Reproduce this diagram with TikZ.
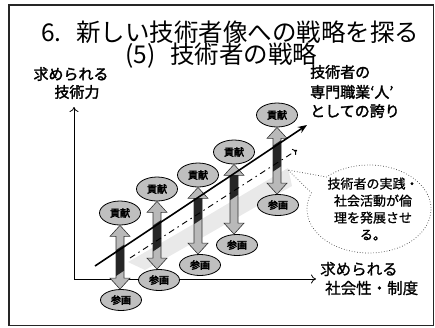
\documentclass[tikz,border=0pt]{standalone}
\usepackage{fontspec}
\setmainfont{Noto Sans CJK JP}
\newfontfamily\jpb{Noto Sans CJK JP}[FakeBold=2]
\newfontfamily\jpbb{Noto Sans CJK JP}[FakeBold=3.5]
\newfontfamily\jpm{Noto Sans CJK JP}[FakeBold=1]
\usetikzlibrary{shapes.geometric,shapes.callouts,arrows.meta,calc}
\newcommand\dblarr[2]{%
  \path[dbl] let \p1=(#1.south), \p2=(#2.north) in
    (\x1,\y1) -- (\x1+10pt,\y1-11pt) -- (\x1+4pt,\y1-11pt) -- (\x1+4pt,\y2+11pt)
    -- (\x1+10pt,\y2+11pt) -- (\x1,\y2) -- (\x1-10pt,\y2+11pt) -- (\x1-4pt,\y2+11pt)
    -- (\x1-4pt,\y1-11pt) -- (\x1-10pt,\y1-11pt) -- cycle;
  \begin{scope}
    \clip let \p1=(#1.south), \p2=(#2.north) in (\x1-4pt,\y1-11pt) rectangle (\x1+4pt,\y2+11pt);
    \fill[black!85] ([yshift=2pt]m0) -- ([yshift=2pt]m1) -- ([yshift=-24pt]m1) -- ([yshift=-24pt]m0) -- cycle;
  \end{scope}}
\begin{document}
\begin{tikzpicture}[x=1pt,y=-1pt,
  lab/.style={inner sep=0, font=\jpb\fontsize{15}{15}\selectfont},
  labm/.style={inner sep=0, font=\jpm\fontsize{15.5}{15.5}\selectfont},
  topell/.style={ellipse, draw=black, line width=0.8pt, fill=gray!50, minimum width=41pt,
    minimum height=24pt, inner sep=0, font=\jpbb\fontsize{10}{10}\selectfont},
  botell/.style={topell, minimum height=21pt},
  dbl/.style={draw=black!80, line width=0.6pt, fill=gray!55},
  axis/.style={line width=0.8pt, -{To[length=5pt,width=9pt]}},
]
\useasboundingbox (0,0) rectangle (435,327);
\draw[line width=1.1pt, black!85] (9,5) rectangle (433.5,325.5);

% titles
\node[anchor=west, inner sep=0, font=\fontsize{24.5}{24.5}\selectfont] (t1) at (41,32)
  {6.\hspace{0.6em}新しい技術者像への戦略を探る};
\node[anchor=west, inner sep=0, font=\fontsize{24.5}{24.5}\selectfont] (t2) at (125,56)
  {(5)\hspace{0.6em}技術者の戦略};

% axis labels
\node[lab] (ya1) at (71,74) {求められる};
\node[lab] (ya2) at (77,92) {技術力};
\node[lab, anchor=west] (p1) at (310,72) {技術者の};
\node[lab, anchor=west] (p2) at (310,92) {専門職業‘人’};
\node[lab, anchor=west] (p3) at (310,111) {としての誇り};
\node[labm, anchor=west] (xa1) at (320,269) {求められる};
\node[labm, anchor=west] (xa2) at (325,288) {社会性・制度};

% axes
\coordinate (o) at (74,279);
\coordinate (yend) at (74,107);
\coordinate (xend) at (316,279);
\draw[axis] (o) -- (yend);
\draw[axis] (o) -- (xend);

% main and dashed lines (coordinates)
\coordinate (m0) at (95,266);
\coordinate (m1) at (307,125);
\coordinate (d0) at (130,258);
\coordinate (d1) at (297,150);

% faint shaded cloud
\fill[gray!25, opacity=0.7] (128,262) -- (180,232) -- (288,168) -- (292,186) -- (205,236) -- (145,270) -- cycle;

% ellipses
\node[topell] (T1) at (120,213) {貢献};
\node[topell] (T2) at (157,189) {貢献};
\node[topell] (T3) at (198,175) {貢献};
\node[topell] (T4) at (234,152) {貢献};
\node[topell] (T5) at (277,115) {貢献};
\node[botell] (B1) at (121,300) {参画};
\node[botell] (B2) at (159,280) {参画};
\node[botell] (B3) at (200,265) {参画};
\node[botell] (B4) at (237,245) {参画};
\node[botell] (B5) at (278,205) {参画};

% double arrows
\dblarr{T1}{B1}
\dblarr{T2}{B2}
\dblarr{T3}{B3}
\dblarr{T4}{B4}
\dblarr{T5}{B5}

% trend lines
\draw[line width=0.9pt, dash pattern=on 6pt off 4pt on 1.5pt off 4pt,
  -{To[length=4pt,width=7pt]}] (d0) -- (d1);
\draw[line width=1.6pt, -{Stealth[length=9pt,width=7pt]}] (m0) -- (m1);

% callout
\coordinate (ptr) at (288,170);
\node[ellipse callout, draw=black!75, dotted, line width=0.7pt, minimum width=124pt,
  minimum height=88pt, inner sep=0, callout absolute pointer=(ptr),
  callout pointer arc=25] (co) at (369,209) {};
\node[align=center, inner sep=0, font=\jpm\fontsize{13}{17}\selectfont] (ct) at (373,209)
  {技術者の実践・\\社会活動が倫\\理を発展させ\\る。};
\end{tikzpicture}
\end{document}
